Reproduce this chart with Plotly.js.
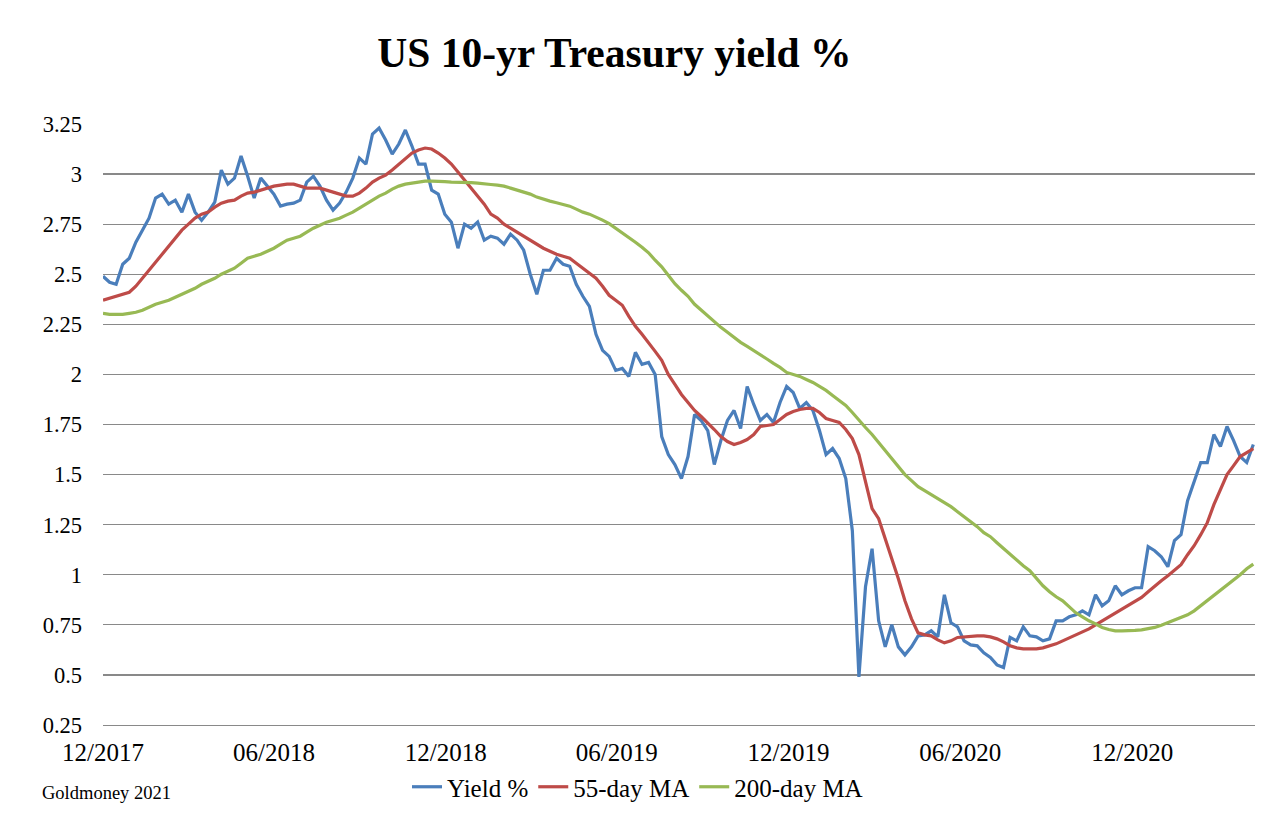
<!DOCTYPE html>
<html>
<head>
<meta charset="utf-8">
<script src="https://cdn.plot.ly/plotly-3.0.1.min.js"></script>
<style>html,body{margin:0;padding:0;background:#fff;}#chart{width:1280px;height:822px;}</style>
</head>
<body>
<div id="chart"></div>
<script>
// Weekly readings starting 2017-12-01
var startDate = '2017-12-01';
var yieldPct = [
2.49,2.46,2.45,2.55,2.58,2.66,2.72,2.78,2.88,2.90,
2.85,2.87,2.81,2.90,2.81,2.77,2.81,2.86,3.02,2.95,
2.98,3.09,2.99,2.88,2.98,2.94,2.90,2.84,2.85,2.855,
2.87,2.96,2.99,2.94,2.87,2.82,2.855,2.91,2.98,3.08,
3.05,3.20,3.23,3.17,3.10,3.15,3.22,3.14,3.05,3.05,
2.92,2.90,2.80,2.76,2.63,2.75,2.73,2.76,2.67,2.69,
2.68,2.65,2.70,2.67,2.62,2.50,2.40,2.52,2.52,2.58,
2.55,2.54,2.45,2.39,2.34,2.20,2.12,2.09,2.02,2.03,
1.99,2.11,2.05,2.06,2.00,1.69,1.60,1.55,1.48,1.59,
1.80,1.77,1.72,1.55,1.67,1.77,1.82,1.73,1.94,1.85,
1.77,1.80,1.76,1.86,1.94,1.91,1.83,1.86,1.82,1.72,
1.60,1.63,1.58,1.48,1.22,0.49,0.94,1.13,0.77,0.64,
0.75,0.64,0.60,0.64,0.695,0.70,0.72,0.69,0.90,0.76,
0.74,0.67,0.65,0.645,0.61,0.587,0.55,0.537,0.687,0.67,
0.74,0.695,0.69,0.67,0.68,0.77,0.77,0.79,0.80,0.82,
0.80,0.90,0.845,0.87,0.945,0.90,0.92,0.935,0.935,1.14,
1.12,1.09,1.04,1.17,1.20,1.37,1.47,1.56,1.56,1.70,
1.64,1.74,1.67,1.59,1.56,1.65
];
var ma55 = [
2.37,2.38,2.39,2.40,2.41,2.44,2.48,2.52,2.555,2.60,
2.64,2.68,2.72,2.75,2.78,2.80,2.81,2.835,2.855,2.865,
2.87,2.89,2.905,2.91,2.92,2.93,2.94,2.945,2.95,2.95,
2.94,2.93,2.93,2.93,2.92,2.91,2.90,2.89,2.89,2.905,
2.93,2.96,2.98,2.995,3.02,3.05,3.08,3.105,3.12,3.13,
3.125,3.105,3.08,3.05,3.01,2.97,2.93,2.89,2.85,2.80,
2.78,2.75,2.73,2.71,2.69,2.67,2.65,2.63,2.615,2.60,
2.59,2.58,2.555,2.53,2.505,2.48,2.44,2.395,2.37,2.345,
2.29,2.24,2.20,2.16,2.115,2.07,2.00,1.95,1.90,1.86,
1.82,1.79,1.76,1.725,1.69,1.665,1.65,1.66,1.675,1.70,
1.74,1.745,1.75,1.775,1.80,1.815,1.825,1.83,1.83,1.81,
1.78,1.77,1.76,1.725,1.68,1.60,1.47,1.33,1.28,1.18,
1.09,0.98,0.87,0.78,0.71,0.70,0.695,0.675,0.66,0.67,
0.687,0.69,0.695,0.695,0.695,0.69,0.68,0.665,0.645,0.635,
0.63,0.63,0.63,0.635,0.645,0.655,0.67,0.685,0.70,0.715,
0.73,0.75,0.77,0.79,0.81,0.83,0.85,0.87,0.887,0.915,
0.945,0.97,0.995,1.02,1.05,1.10,1.145,1.20,1.26,1.35,
1.43,1.50,1.545,1.59,1.61,1.63
];
var ma200 = [
2.305,2.30,2.30,2.30,2.305,2.31,2.32,2.335,2.35,2.36,
2.37,2.385,2.40,2.415,2.43,2.45,2.465,2.48,2.50,2.515,
2.53,2.555,2.58,2.59,2.60,2.615,2.63,2.65,2.67,2.68,
2.69,2.71,2.73,2.745,2.76,2.77,2.78,2.795,2.81,2.83,
2.85,2.87,2.89,2.905,2.925,2.94,2.95,2.955,2.96,2.965,
2.965,2.965,2.962,2.96,2.96,2.96,2.957,2.955,2.95,2.948,
2.945,2.94,2.93,2.92,2.91,2.90,2.885,2.873,2.865,2.857,
2.85,2.84,2.825,2.81,2.80,2.787,2.77,2.753,2.73,2.71,
2.685,2.66,2.635,2.607,2.57,2.537,2.495,2.453,2.42,2.39,
2.35,2.32,2.29,2.26,2.235,2.21,2.185,2.16,2.14,2.12,
2.10,2.077,2.055,2.035,2.01,2.00,1.99,1.975,1.96,1.94,
1.92,1.895,1.87,1.845,1.81,1.77,1.735,1.70,1.66,1.62,
1.58,1.54,1.50,1.47,1.44,1.42,1.40,1.38,1.36,1.34,
1.315,1.29,1.265,1.24,1.21,1.19,1.16,1.13,1.103,1.075,
1.045,1.02,0.98,0.945,0.915,0.89,0.87,0.84,0.81,0.79,
0.77,0.755,0.737,0.727,0.72,0.72,0.72,0.722,0.725,0.73,
0.737,0.748,0.76,0.773,0.787,0.80,0.82,0.845,0.87,0.895,
0.92,0.945,0.97,1.00,1.03,1.053
];
var seriesNames = ['Yield %', '55-day MA', '200-day MA'];
var xTickVals = ['2017-12-01','2018-06-01','2018-12-01','2019-06-01','2019-12-01','2020-06-01','2020-12-01'];
var xTickText = ['12/2017','06/2018','12/2018','06/2019','12/2019','06/2020','12/2020'];
var yTickVals = [0.25,0.5,0.75,1,1.25,1.5,1.75,2,2.25,2.5,2.75,3,3.25];
var yTickText = ['0.25','0.5','0.75','1','1.25','1.5','1.75','2','2.25','2.5','2.75','3','3.25'];

var FONT = 'Liberation Serif, Times New Roman, serif';
var WEEK = 7 * 86400000;
var GRID = '#898989';

function mk(y, name, color) {
  return {type: 'scatter', mode: 'lines', name: name, x0: startDate, dx: WEEK, y: y,
    line: {color: color, width: 3.2, shape: 'linear'}, hoverinfo: 'y+name'};
}
var data = [
  mk(yieldPct, seriesNames[0], '#4A7EBB'),
  mk(ma55, seriesNames[1], '#BE4B48'),
  mk(ma200, seriesNames[2], '#98B954')
];
var layout = {
  width: 1280, height: 822,
  paper_bgcolor: '#ffffff', plot_bgcolor: '#ffffff',
  margin: {l: 103, r: 25, t: 124, b: 97},
  font: {family: FONT, color: '#000000'},
  title: {text: 'US 10-yr Treasury yield %', font: {family: FONT, size: 41.5, weight: 'bold', color: '#000'},
    x: 0.48, xref: 'container', xanchor: 'center', y: 1 - 52/822, yref: 'container', yanchor: 'middle'},
  xaxis: {type: 'date', range: ['2017-12-01', '2021-04-10 19:00'], tickvals: xTickVals, ticktext: xTickText,
    showgrid: false, showline: true, linecolor: GRID, linewidth: 1.3, zeroline: false, ticks: '',
    tickfont: {size: 25, family: FONT}, ticklabelstandoff: 5},
  yaxis: {range: [0.25, 3.25], tickvals: yTickVals, ticktext: yTickText, showgrid: true,
    gridcolor: GRID, gridwidth: 1.3, zeroline: false, showline: false, ticks: '',
    tickfont: {size: 22.5, family: FONT}, ticklabelstandoff: 20},
  showlegend: true,
  legend: {orientation: 'h', xref: 'container', yref: 'container', x: 407/1280, y: 1 - 764/822,
    xanchor: 'left', yanchor: 'top', font: {size: 25, family: FONT}, bgcolor: 'rgba(0,0,0,0)',
    itemclick: false, itemdoubleclick: false},
  annotations: [{text: 'Goldmoney 2021', xref: 'paper', yref: 'paper', x: (40-103)/1152, y: (725-793)/601,
    xanchor: 'left', yanchor: 'middle', showarrow: false, font: {size: 18.5, family: FONT, color: '#000'}}]
};
Plotly.newPlot('chart', data, layout, {displayModeBar: false, staticPlot: true});
</script>
</body>
</html>
